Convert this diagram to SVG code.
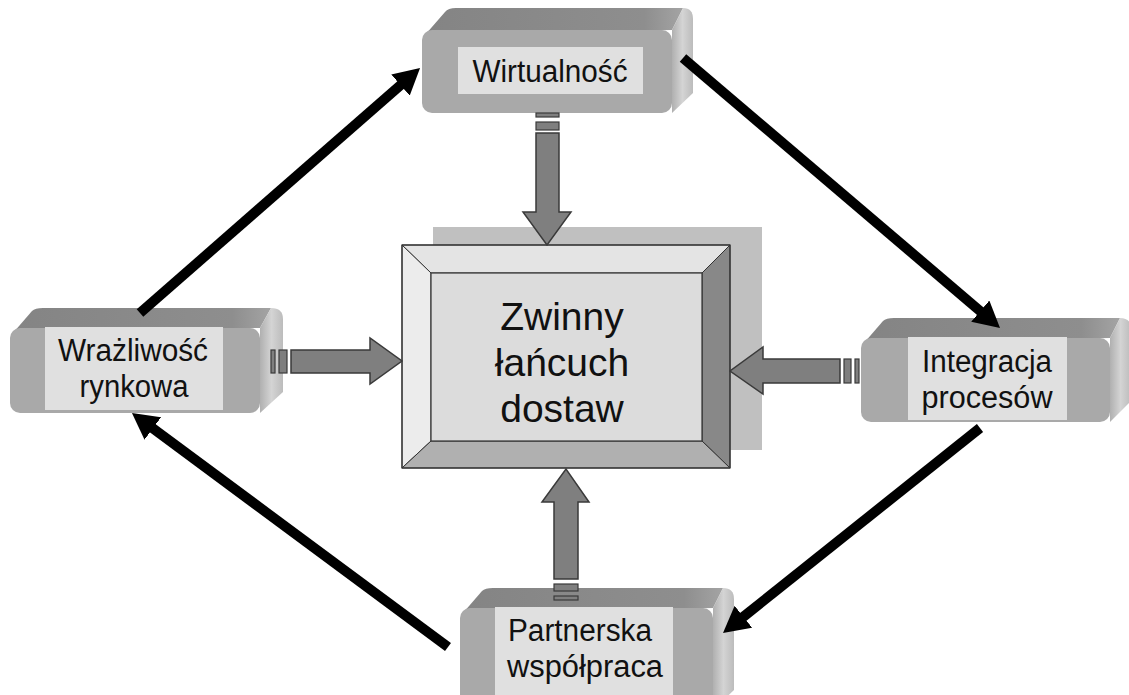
<svg xmlns="http://www.w3.org/2000/svg" width="1129" height="695" viewBox="0 0 1129 695">
<defs>
<linearGradient id="gTop" x1="0" y1="0" x2="1" y2="0">
<stop offset="0" stop-color="#848484"/><stop offset="0.85" stop-color="#8e8e8e"/><stop offset="1" stop-color="#a4a4a4"/>
</linearGradient>
<linearGradient id="gSide" x1="0" y1="0" x2="1" y2="0">
<stop offset="0" stop-color="#b0b0b0"/><stop offset="0.5" stop-color="#d4d4d4"/><stop offset="1" stop-color="#bcbcbc"/>
</linearGradient>
<marker id="ah" viewBox="0 0 26 28" refX="14" refY="14" markerWidth="26" markerHeight="28" markerUnits="userSpaceOnUse" orient="auto">
<path d="M0,0 L26,14 L0,28 Z" fill="#000"/>
</marker>
<style>
.top{fill:url(#gTop)}
.side{fill:url(#gSide)}
.front{fill:#a9a9a9}
.lbl{fill:#e0e0e0}
.t{font-family:"Liberation Sans",Arial,sans-serif;font-size:31px;fill:#111;text-anchor:middle}
.ct{font-family:"Liberation Sans",Arial,sans-serif;font-size:39px;fill:#111;text-anchor:middle}
.blk{fill:#7f7f7f;stroke:#3a3a3a;stroke-width:1.5;stroke-linejoin:miter}
.bar{fill:#7f7f7f;stroke:#3a3a3a;stroke-width:1.2}
.conn{stroke:#000;stroke-width:10;fill:none;marker-end:url(#ah)}
</style>
</defs>
<rect width="1129" height="695" fill="#fff"/>

<g id="center">
<rect x="433" y="227" width="329" height="223" fill="#c0c0c0"/>
<polygon points="402,245 730,245 702,273 431,273" fill="#e4e4e4" stroke="#333" stroke-width="1"/>
<polygon points="402,245 431,273 431,441 402,468" fill="#ececec" stroke="#333" stroke-width="1"/>
<polygon points="730,245 730,468 702,441 702,273" fill="#888888" stroke="#333" stroke-width="1"/>
<polygon points="402,468 431,441 702,441 730,468" fill="#b0b0b0" stroke="#333" stroke-width="1"/>
<rect x="431" y="273" width="271" height="168" fill="#dcdcdc" stroke="#333" stroke-width="1.2"/>
<rect x="402" y="245" width="328" height="223" fill="none" stroke="#333" stroke-width="1.2"/>
<text class="ct" x="562" y="330">Zwinny</text>
<text class="ct" x="562" y="376">łańcuch</text>
<text class="ct" x="562" y="422">dostaw</text>
</g>

<g id="node-wirtualnosc">
<path class="top" d="M425,35 L445,12 Q448,8 456,8 L683,8 L672,30 Z"/>
<path class="side" d="M672,30 L683,8 Q693,8 693,19 L693,93 L672,113 Z"/>
<rect class="front" x="422" y="30" width="250" height="83" rx="10"/>
<rect class="lbl" x="458" y="47" width="185" height="47"/>
<text class="t" x="550" y="82" textLength="155" lengthAdjust="spacingAndGlyphs">Wirtualność</text>
</g>

<g id="node-wrazliwosc">
<path class="top" d="M13,333 L32,311 Q35,308 43,308 L271,308 L260,328 Z"/>
<path class="side" d="M260,328 L271,308 Q283,308 283,319 L283,392 L260,413 Z"/>
<rect class="front" x="10" y="328" width="250" height="85" rx="10"/>
<rect class="lbl" x="45" y="327" width="178" height="83"/>
<text class="t" x="133" y="361" textLength="150" lengthAdjust="spacingAndGlyphs">Wrażliwość</text>
<text class="t" x="134" y="397" textLength="109" lengthAdjust="spacingAndGlyphs">rynkowa</text>
</g>

<g id="node-integracja">
<path class="top" d="M864,343 L883,321 Q886,318 894,318 L1120,318 L1110,338 Z"/>
<path class="side" d="M1110,338 L1120,318 Q1131,318 1131,329 L1131,401 L1110,422 Z"/>
<rect class="front" x="861" y="338" width="249" height="84" rx="10"/>
<rect class="lbl" x="908" y="337" width="159" height="83"/>
<text class="t" x="987" y="372" textLength="130" lengthAdjust="spacingAndGlyphs">Integracja</text>
<text class="t" x="987" y="408" textLength="131" lengthAdjust="spacingAndGlyphs">procesów</text>
</g>

<g id="node-partnerska">
<path class="top" d="M463,613 L482,591 Q485,588 493,588 L723,588 L713,608 Z"/>
<path class="side" d="M713,608 L723,588 Q734,588 734,599 L734,690 L713,710 Z"/>
<rect class="front" x="460" y="608" width="253" height="100" rx="10"/>
<rect class="lbl" x="495" y="607" width="178" height="95"/>
<text class="t" x="580" y="641" textLength="144" lengthAdjust="spacingAndGlyphs">Partnerska</text>
<text class="t" x="585" y="677" textLength="156" lengthAdjust="spacingAndGlyphs">współpraca</text>
</g>

<g id="connectors">
<line class="conn" x1="140" y1="313" x2="411" y2="75.9"/>
<line class="conn" x1="683" y1="58" x2="990.9" y2="320.2"/>
<line class="conn" x1="980" y1="428" x2="732.4" y2="625.5"/>
<line class="conn" x1="448" y1="647" x2="141.6" y2="420.1"/>

<rect class="bar" x="536" y="113" width="23" height="4"/>
<rect class="bar" x="536" y="122" width="23" height="8"/>
<polygon class="blk" points="536,133 559,133 559,212 571,212 547,245 523,212 536,212"/>

<rect class="bar" x="271" y="350" width="4" height="23"/>
<rect class="bar" x="279" y="350" width="8" height="23"/>
<polygon class="blk" points="291,350 370,350 370,338 402,361 370,384 370,373 291,373"/>

<rect class="bar" x="855" y="359" width="4" height="24"/>
<rect class="bar" x="844" y="359" width="7" height="24"/>
<polygon class="blk" points="840,359 763,359 763,347 730,371 763,394 763,383 840,383"/>

<rect class="bar" x="554" y="584" width="24" height="7"/>
<rect class="bar" x="554" y="596" width="24" height="4"/>
<polygon class="blk" points="554,579 554,502 542,502 566,469 589,502 578,502 578,579"/>
</g>
</svg>
